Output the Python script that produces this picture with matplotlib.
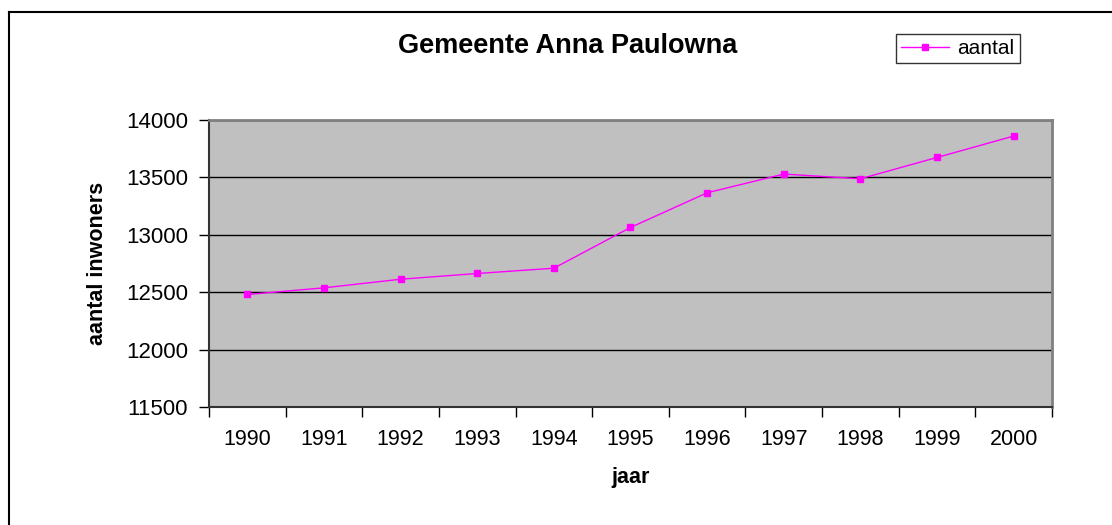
import matplotlib
matplotlib.use("Agg")
import matplotlib.pyplot as plt
from matplotlib.lines import Line2D

years = ["1990", "1991", "1992", "1993", "1994", "1995", "1996", "1997", "1998", "1999", "2000"]
aantal = [12480, 12538, 12613, 12663, 12709, 13064, 13366, 13529, 13488, 13674, 13860]
yticks = [11500, 12000, 12500, 13000, 13500, 14000]

plt.rcParams['font.family'] = ['Liberation Sans', 'DejaVu Sans']

W, H = 1112, 525
fig = plt.figure(figsize=(W / 100, H / 100), dpi=100)
ax = fig.add_axes([209 / W, 1 - 407 / H, (1052 - 209) / W, (407 - 120) / H])
ax.set_facecolor('#C0C0C0')

x = list(range(len(years)))
ax.plot(x, aantal, color='#FF00FF', lw=1.0, marker='s', markersize=5,
        markerfacecolor='#FF00FF', markeredgecolor='#FF00FF', label='aantal', zorder=3)

ax.set_ylim(11500, 14000)
ax.set_yticks(yticks)
ax.set_yticklabels([str(v) for v in yticks])
ax.yaxis.grid(True, color='black', lw=1.0)
ax.set_axisbelow(True)

ax.set_xlim(-0.5, len(years) - 0.5)
ax.set_xticks([i - 0.5 for i in range(len(years) + 1)])
ax.set_xticklabels([])
ax.set_xticks(x, minor=True)
ax.set_xticklabels(years, minor=True)
ax.tick_params(axis='x', which='minor', length=0, labelsize=15.5, pad=16)
ax.tick_params(axis='x', which='major', length=7, width=1, color='black')
ax.tick_params(axis='y', length=7, width=1, labelsize=16, pad=8)

for s in ['top', 'right']:
    ax.spines[s].set_color('#808080')
    ax.spines[s].set_linewidth(2)
for s in ['left', 'bottom']:
    ax.spines[s].set_color('#333333')
    ax.spines[s].set_linewidth(1.5)

fig.text(567.5 / W, 1 - 46 / H, 'Gemeente Anna Paulowna', ha='center', va='center',
         fontsize=19.5, fontweight='bold')
fig.text(98 / W, 1 - 263.5 / H, 'aantal inwoners', ha='center', va='center',
         rotation=90, fontsize=15.5, fontweight='bold')
fig.text(631 / W, 1 - 478 / H, 'jaar', ha='center', va='center',
         fontsize=15.5, fontweight='bold')

leg = fig.legend(loc='upper left', bbox_to_anchor=(896 / W, 1 - 34 / H),
                 frameon=True, fancybox=False, edgecolor='black', fontsize=15,
                 handlelength=2.3, borderpad=0.25, handletextpad=0.4,
                 borderaxespad=0)
leg.get_frame().set_linewidth(1.0)

fig.add_artist(Line2D([9 / W, 1.0], [1 - 12 / H, 1 - 12 / H], color='black', lw=1.5,
                      transform=fig.transFigure))
fig.add_artist(Line2D([9 / W, 9 / W], [0, 1 - 12 / H], color='black', lw=1.5,
                      transform=fig.transFigure))

fig.savefig('out.png', dpi=100)
